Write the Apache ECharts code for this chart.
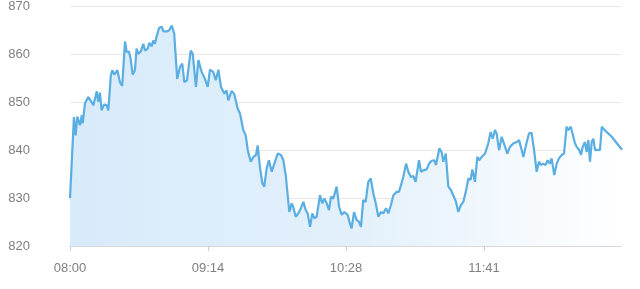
<!DOCTYPE html>
<html>
<head>
<meta charset="utf-8">
<script src="https://cdn.jsdelivr.net/npm/echarts@6/dist/echarts.min.js"></script>
<style>html,body{margin:0;padding:0;background:#fff}#c{width:640px;height:289px}</style>
</head>
<body>
<div id="c"></div>
<script>
// minutes after 08:00
const minutes = [0,2.1,3.0,3.9,5.3,6.3,6.8,8.0,9.8,10.7,12.5,14.3,15.1,16.0,16.9,18.2,19.6,20.5,21.8,22.6,23.7,25.3,26.7,27.9,29.4,30.3,31.5,32.4,33.5,34.7,35.6,36.5,37.8,39.2,40.1,41.5,42.4,43.7,44.5,45.4,46.3,47.6,49.0,49.9,51.7,52.9,54.4,55.7,56.5,57.3,58.8,60.0,61.1,62.5,64.5,65.6,67.3,68.6,70.4,72.1,73.6,74.8,76.6,77.9,79.3,80.7,82.5,83.7,84.6,86.4,87.8,89.6,90.9,92.6,93.9,95.0,96.6,98.0,99.4,100.3,101.5,102.8,103.8,105.1,106.3,107.8,109.2,111.0,112.8,114.0,115.3,116.3,117.2,118.5,119.3,120.6,122.0,123.4,124.7,126.0,127.0,128.3,129.5,130.6,131.8,133.6,134.8,135.9,137.2,138.4,139.5,140.7,142.5,143.8,145.2,146.6,148.4,149.6,150.5,151.8,153.2,154.4,155.5,156.7,158.0,159.4,160.7,162.1,163.4,164.8,166.2,167.4,168.9,170.1,171.5,172.8,174.6,175.8,176.9,178.1,179.6,180.8,182.2,183.5,184.7,186.5,187.6,188.8,190.6,191.9,193.3,194.7,195.6,197.4,198.6,199.5,200.8,202.2,203.6,204.8,206.3,207.5,208.8,210.2,211.5,212.9,214.1,215.0,216.4,217.7,218.7,220.0,221.8,223.5,224.8,225.9,227.1,228.0,229.3,230.7,232.5,233.7,235.1,236.9,238.7,240.0,241.4,242.3,244.1,245.3,246.7,248.0,249.4,250.6,251.7,252.9,254.2,255.3,256.5,257.4,258.8,260.1,261.3,262.8,264.0,265.4,266.3,267.6,269.0,269.9,270.8,272.2,273.1,274.0,275.2,276.1,277.0,277.9,278.8,279.7,280.6,282.0,283.2,284.2,285.5,289.5,295.0];
const prices = [830,846.9,843.1,847,845.2,847.3,845.6,849.8,851.1,851.5,849.4,852.3,850.1,852,848.3,849.5,849.4,848.3,855.6,856.7,855.8,856.7,854.2,853.4,862.7,860.5,860.6,859.1,855.8,856.7,861.2,860.1,860.6,862.2,860.8,861.2,862.4,861.7,862.9,862.2,863.8,865.5,865.8,864.8,864.8,865,866,864.3,864,854.9,857.4,858.1,854.2,854.6,860.8,860.1,853.2,858.8,856.3,854.9,853.2,856.8,856.3,854.6,856.8,853.2,851.8,852.5,850.4,852.4,851.7,848.7,847.6,844.2,843.1,840,837.6,838.6,839,841,836.5,833.1,832.4,836.2,837.9,835.5,837.2,839.3,839,837.9,834.8,834.8,827.1,828.9,828.2,826.1,826.8,827.9,829.2,827.5,826.8,824,826.8,825.8,826.1,830.6,828.9,829.9,828.9,827.5,830.3,829.9,832.4,828.2,826.5,827.1,826.5,824.7,823.7,827.1,825.4,825.1,824,829.6,829.2,833.4,834.1,831,828.9,826.1,827.1,826.8,827.9,826.8,828.5,830.6,831.3,831.3,832.7,834.4,837.2,835.5,834.4,834.6,833.4,837.9,835.5,835.8,836,837.2,837.8,837.9,836.9,840.4,839.6,837.6,839.3,832.4,831.7,830.6,829.2,827.1,828.5,829.2,831.3,834.1,833.8,836,833.4,838.6,837.9,838.6,839.3,841.4,843.8,842.4,844.2,843.5,840,842.8,840.7,839.3,840.7,841.4,841.7,842.1,840,838.6,841.7,843.5,843.6,840,835.5,837.6,836.9,837.2,836.9,837.9,837.2,838.3,834.8,837.2,838.3,839,839.3,844.9,844.2,844.9,842.8,841.4,840.7,840,839,840.7,841.7,839.6,842.1,837.6,841.7,842.4,840,840.1,840,844.9,844.3,842.8,840.1];
const startMinute = 8 * 60;
const yTicks = {min: 820, max: 870, step: 10};

const chart = echarts.init(document.getElementById('c'), null, {renderer: 'canvas'});
const fmt = v => {
  const t = startMinute + Math.round(v);
  const h = Math.floor(t / 60), m = t % 60;
  return String(h).padStart(2, '0') + ':' + String(m).padStart(2, '0');
};
const total = minutes[minutes.length - 1];
chart.setOption({
  animation: false,
  grid: {left: 70, right: 18, top: 6, bottom: 43},
  xAxis: {
    type: 'value', min: 0, max: total, interval: total / 4,
    axisLine: {show: true, lineStyle: {color: '#d9d9d9'}},
    axisTick: {show: true, length: 5, lineStyle: {color: '#cccccc'}},
    axisLabel: {color: '#808080', fontSize: 13, margin: 16, showMaxLabel: false,
      fontFamily: 'Liberation Sans, Arial, sans-serif', formatter: fmt},
    splitLine: {show: false}
  },
  yAxis: {
    type: 'value', min: yTicks.min, max: yTicks.max, interval: yTicks.step,
    axisLine: {show: false}, axisTick: {show: false},
    axisLabel: {color: '#808080', fontSize: 13, margin: 40, fontFamily: 'Liberation Sans, Arial, sans-serif'},
    splitLine: {lineStyle: {color: '#e8e8e8'}}
  },
  series: [{
    type: 'line',
    data: minutes.map((m, i) => [m, prices[i]]),
    showSymbol: false,
    lineStyle: {color: '#5aaee2', width: 2.2},
    itemStyle: {color: '#5aaee2'},
    areaStyle: {
      color: new echarts.graphic.LinearGradient(0, 0, 1, 0, [
        {offset: 0, color: '#d8ebfa'},
        {offset: 0.5, color: '#e2f0fb'},
        {offset: 1, color: '#ffffff'}
      ]),
      opacity: 1
    }
  }]
});
</script>
</body>
</html>
